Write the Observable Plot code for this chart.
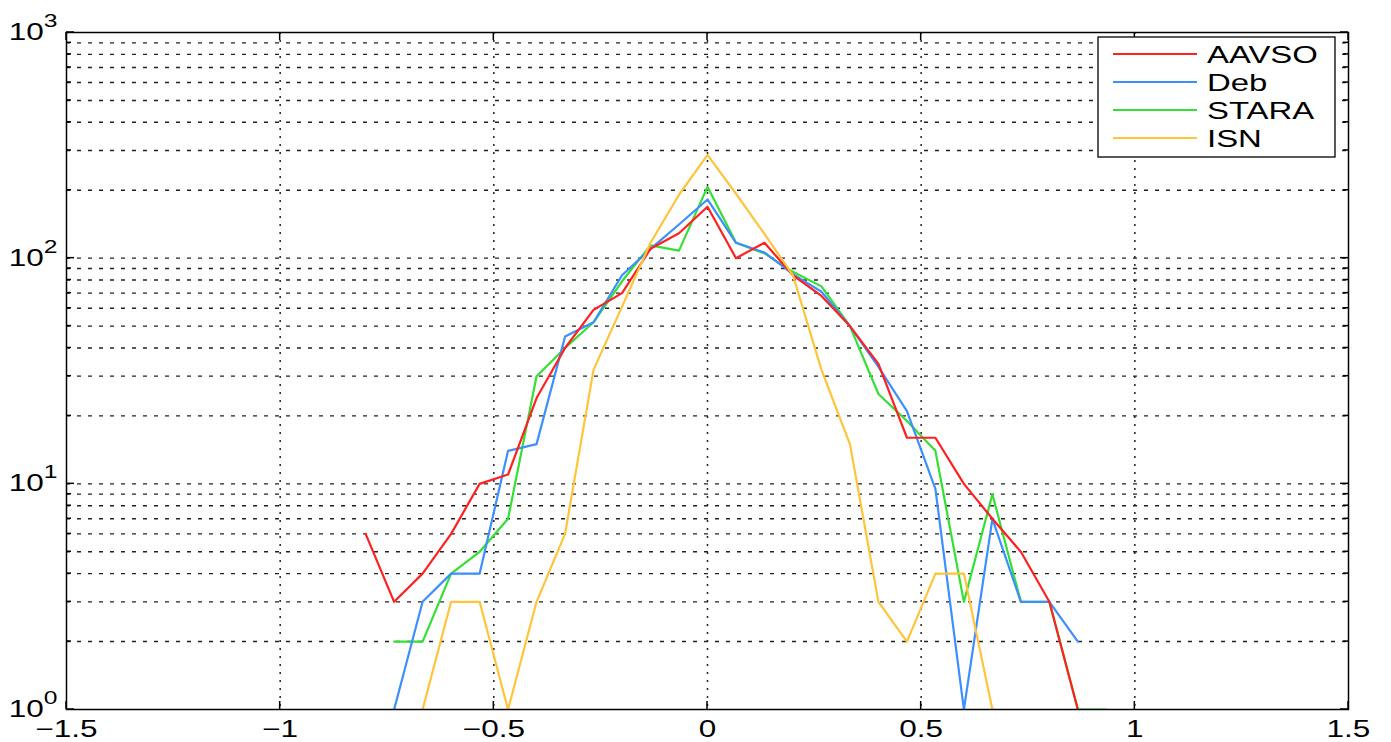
<!DOCTYPE html>
<html><head><meta charset="utf-8">
<script src="https://cdn.jsdelivr.net/npm/d3@7"></script>
<script src="https://cdn.jsdelivr.net/npm/@observablehq/plot@0.6"></script>
<style>body{margin:0;background:#fff;}</style>
</head><body><div id="chart"></div>
<script>
// Bin centres (x) shared by all series
const binCenters = [-0.8,-0.7333,-0.6667,-0.6,-0.5333,-0.4667,-0.4,-0.3333,-0.2667,-0.2,-0.1333,-0.0667,0,0.0667,0.1333,0.2,0.2667,0.3333,0.4,0.4667,0.5333,0.6,0.6667,0.7333,0.8,0.8667,0.9333];
const seriesNames = ["AAVSO","Deb","STARA","ISN"];
const seriesColors = ["#ff2020","#3d8eff","#33e033","#ffc43a"];
const aavso = [6,3,4,6,10,11,24,40,59,70,110,129,169,100,117,84,68,50,34,16,16,10,7,5,3,1,null];
const deb   = [null,1,3,4,4,14,15,45,52,84,110,141,182,117,106,85,71,50,33,21,9.5,1,7,3,3,2,null];
const stara = [null,2,2,4,5,7,30,40,52,79,114,108,207,117,105,87,75,50,25,19,14,3,9,3,3,1,1];
const isn   = [null,null,1,3,3,1,3,6,32,61,117,191,287,193,128,84,32,15,3,2,4,4,1,null,null,null,null];
const xTicks = [-1.5,-1,-0.5,0,0.5,1,1.5];
const xTickLabels = ["\u22121.5","\u22121","\u22120.5","0","0.5","1","1.5"];
const yTicks = [1,10,100,1000];
const yExponents = ["0","1","2","3"];
const yMinor = [2,3,4,5,6,7,8,9,20,30,40,50,60,70,80,90,200,300,400,500,600,700,800,900];
const yGrid = [2,3,4,5,6,7,8,9,10,20,30,40,50,60,70,80,90,100,200,300,400,500,600,700,800,900];
const xGrid = [-1,-0.5,0,0.5,1];

const seriesValues = {AAVSO: aavso, Deb: deb, STARA: stara, ISN: isn};
function rowsOf(name) {
  return binCenters.map((x, i) => ({series: name, x, y: seriesValues[name][i]})).filter(d => d.y != null);
}
const drawOrder = ["STARA","Deb","AAVSO","ISN"];
const stretch = 1.37;

const font = "'Liberation Sans', Arial, Helvetica, sans-serif";
const chart = Plot.plot({
  width: 1391, height: 742,
  marginLeft: 66, marginRight: 43, marginTop: 32, marginBottom: 33,
  style: {fontFamily: font, fontSize: "23px", color: "#000", background: "#fff"},
  x: {domain: [-1.5, 1.5], label: null},
  y: {type: "log", domain: [1, 1000], label: null},
  color: {domain: seriesNames, range: seriesColors},
  marks: [
    Plot.ruleX(xGrid, {stroke: "#222", strokeDasharray: "2,6", strokeWidth: 1.5}),
    Plot.ruleY(yGrid, {stroke: "#222", strokeDasharray: "4,7", strokeWidth: 1.4}),
    ...drawOrder.map(name => Plot.line(rowsOf(name), {x: "x", y: "y", stroke: "series", strokeWidth: 2.2, clip: true})),
    Plot.frame({stroke: "#000", strokeWidth: 1.5}),
    Plot.axisX({anchor: "bottom", label: null, ticks: xTicks, tickSize: 0, tickPadding: 11, fontSize: 23, tickFormat: d => xTickLabels[xTicks.indexOf(d)]}),
    Plot.axisY({anchor: "left", label: null, ticks: yTicks, tickSize: 0, tickPadding: 9, fontSize: 23, tickFormat: () => "10"})
  ]
});
document.getElementById("chart").appendChild(chart);

const svg = d3.select(chart);
const sx = chart.scale("x"), sy = chart.scale("y");
const x0 = sx.apply(-1.5), x1 = sx.apply(1.5), y0 = sy.apply(1), y1 = sy.apply(1000);

function stretchText(node) {
  const tr = node.getAttribute("transform");
  if (tr && tr.includes("translate")) {
    node.setAttribute("transform", tr + ` scale(${stretch},1)`);
  } else {
    const x = +(node.getAttribute("x") || 0);
    node.setAttribute("transform", `translate(${x},0) scale(${stretch},1) translate(${-x},0)`);
  }
}
svg.selectAll('g[aria-label="x-axis tick label"] text').each(function() { stretchText(this); });
// superscript exponents on y tick labels
svg.selectAll('g[aria-label="y-axis tick label"] text').each(function(d, i) {
  const t = d3.select(this);
  t.append("tspan").attr("dy", "-13").attr("font-size", 18).text(yExponents[i]);
  stretchText(this);
});

// inward ticks on all four sides
const tg = svg.append("g").attr("stroke", "#000").attr("stroke-width", 1.5);
xTicks.forEach(v => {
  const x = sx.apply(v);
  tg.append("line").attr("x1", x).attr("x2", x).attr("y1", y0).attr("y2", y0 - 8);
  tg.append("line").attr("x1", x).attr("x2", x).attr("y1", y1).attr("y2", y1 + 8);
});
yTicks.forEach(v => {
  const y = sy.apply(v);
  tg.append("line").attr("x1", x0).attr("x2", x0 + 8).attr("y1", y).attr("y2", y);
  tg.append("line").attr("x1", x1).attr("x2", x1 - 8).attr("y1", y).attr("y2", y);
});
yMinor.forEach(v => {
  const y = sy.apply(v);
  tg.append("line").attr("x1", x0).attr("x2", x0 + 5).attr("y1", y).attr("y2", y);
  tg.append("line").attr("x1", x1).attr("x2", x1 - 5).attr("y1", y).attr("y2", y);
});

// legend inside the plot
const lg = svg.append("g").attr("font-family", font).attr("font-size", 24).attr("text-anchor", "start");
lg.append("rect").attr("x", 1098).attr("y", 37).attr("width", 237).attr("height", 120)
  .attr("fill", "#fff").attr("stroke", "#000").attr("stroke-width", 1.3);
const rowY = [54, 82, 110, 138];
seriesNames.forEach((name, i) => {
  lg.append("line").attr("x1", 1113).attr("x2", 1197).attr("y1", rowY[i]).attr("y2", rowY[i])
    .attr("stroke", seriesColors[i]).attr("stroke-width", 2);
  lg.append("text").attr("transform", `translate(1207,${rowY[i]}) scale(${stretch},1)`)
    .attr("dy", "0.36em").attr("fill", "#000").attr("text-anchor", "start").text(name);
});
</script>
</body></html>
